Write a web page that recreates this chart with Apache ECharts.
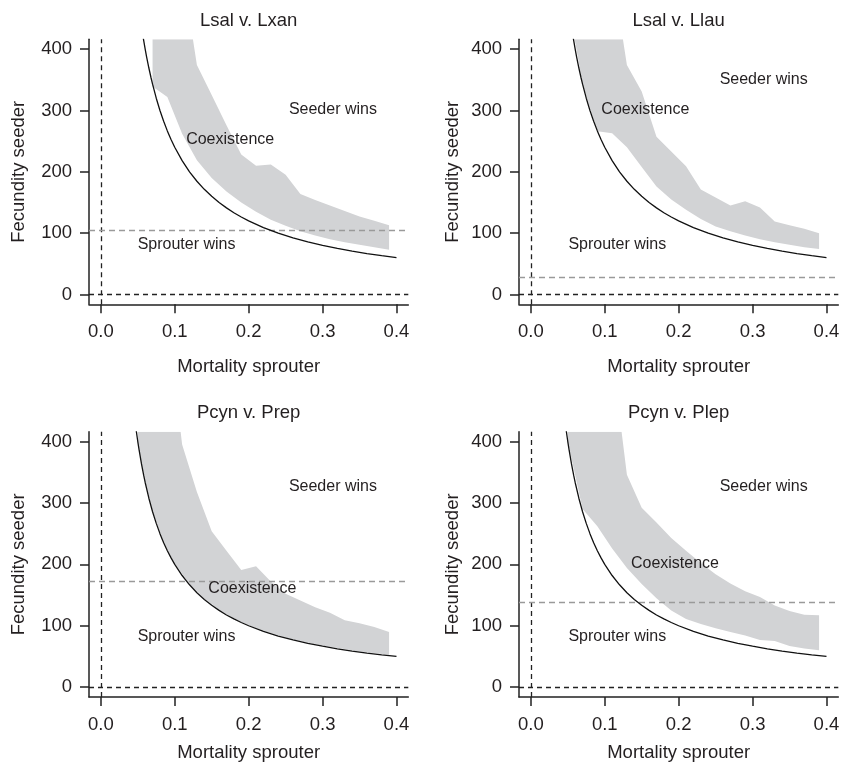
<!DOCTYPE html>
<html>
<head>
<meta charset="utf-8">
<script src="https://cdn.jsdelivr.net/npm/echarts@6/dist/echarts.min.js"></script>
<style>
  html, body { margin: 0; padding: 0; background: #fff; }
  #chart { width: 843px; height: 763px; }
</style>
</head>
<body>
<div id="chart"></div>
<script>
// ---------- data ----------
const titles = ['Lsal v. Lxan', 'Lsal v. Llau', 'Pcyn v. Prep', 'Pcyn v. Plep'];
const xTicks = [0, 0.1, 0.2, 0.3, 0.4];
const yTicks = [0, 100, 200, 300, 400];
const xName = 'Mortality sprouter';
const yName = 'Fecundity seeder';

// black boundary curves (top row / bottom row)
const curveX_A = [0.0575, 0.06, 0.062, 0.065, 0.068, 0.07, 0.075, 0.08, 0.085, 0.09, 0.095, 0.10, 0.11, 0.12, 0.13, 0.14, 0.15, 0.16, 0.17, 0.18, 0.19, 0.20, 0.22, 0.24, 0.26, 0.28, 0.30, 0.32, 0.34, 0.36, 0.38, 0.40];
const curveY_A = [417.4, 400, 387.1, 369.2, 352.9, 342.9, 320, 300, 282.4, 266.7, 252.6, 240, 218.2, 200, 184.6, 171.4, 160, 150, 141.2, 133.3, 126.3, 120, 109.1, 100, 92.3, 85.7, 80, 75, 70.6, 66.7, 63.2, 60];
const curveX_B = [0.048, 0.05, 0.052, 0.055, 0.058, 0.06, 0.065, 0.07, 0.075, 0.08, 0.085, 0.09, 0.095, 0.10, 0.11, 0.12, 0.13, 0.14, 0.15, 0.16, 0.17, 0.18, 0.19, 0.20, 0.22, 0.24, 0.26, 0.28, 0.30, 0.32, 0.34, 0.36, 0.38, 0.40];
const curveY_B = [416.7, 400, 384.6, 363.6, 344.8, 333.3, 307.7, 285.7, 266.7, 250, 235.3, 222.2, 210.5, 200, 181.8, 166.7, 153.8, 142.9, 133.3, 125, 117.6, 111.1, 105.3, 100, 90.9, 83.3, 76.9, 71.4, 66.7, 62.5, 58.8, 55.6, 52.6, 50];

// coexistence bands
const band1X = [0.07, 0.09, 0.11, 0.13, 0.15, 0.17, 0.19, 0.21, 0.23, 0.25, 0.27, 0.29, 0.31, 0.33, 0.35, 0.37, 0.39];
const band1Upper = [900, 700, 530, 374, 325, 276, 228, 210, 212, 195, 164, 154, 145, 136, 127, 120, 113];
const band1Lower = [339, 322, 262, 219, 190, 168, 150, 135, 122, 112, 103, 96, 90, 85, 81, 77, 73];

const band2X = [0.05, 0.07, 0.09, 0.11, 0.13, 0.15, 0.17, 0.19, 0.21, 0.23, 0.25, 0.27, 0.29, 0.31, 0.33, 0.35, 0.37, 0.39];
const band2Upper = [1200, 900, 700, 530, 374, 331, 257, 233, 209, 171, 158, 145, 152, 142, 119, 113, 107, 100];
const band2Lower = [480, 343, 266, 263, 240, 208, 176, 155, 138, 123, 111, 103, 96, 90, 85, 81, 77, 74];

const band3X = [0.05, 0.07, 0.09, 0.11, 0.13, 0.15, 0.17, 0.19, 0.21, 0.23, 0.25, 0.27, 0.29, 0.31, 0.33, 0.35, 0.37, 0.39];
const band3Upper = [1500, 900, 600, 395, 318, 254, 222, 191, 197, 172, 152, 141, 130, 121, 109, 104, 98, 90];
const band3LowerX = [0.05, 0.055, 0.06, 0.07, 0.08, 0.09, 0.10, 0.12, 0.14, 0.16, 0.18, 0.20, 0.22, 0.25, 0.28, 0.31, 0.35, 0.39];
const band3Lower = [400, 364, 334, 287, 251, 223, 201, 168, 144, 126, 112, 101, 92, 81, 72, 66, 58, 53];

const band4X = [0.05, 0.07, 0.09, 0.11, 0.13, 0.15, 0.17, 0.19, 0.21, 0.23, 0.25, 0.27, 0.29, 0.31, 0.33, 0.35, 0.37, 0.39];
const band4Upper = [1500, 900, 650, 540, 346, 292, 268, 243, 222, 202, 184, 169, 156, 147, 133, 124, 118, 117];
const band4Lower = [400, 290, 262, 226, 194, 168, 145, 125, 111, 103, 96, 90, 84, 77, 75, 67, 63, 60];

// grey dashed thresholds
const thresholds = [104, 28, 173, 138];

// region labels
const regionNames = ['Seeder wins', 'Coexistence', 'Sprouter wins'];
const labelX = [[0.314, 0.175, 0.116], [0.315, 0.155, 0.117], [0.314, 0.205, 0.116], [0.315, 0.195, 0.117]];
const labelY = [[301, 252, 82], [351, 301, 82], [327, 160, 83], [327, 201, 83]];

// ---------- chart ----------
const FONT = 'Liberation Sans, Arial, Helvetica, sans-serif';
const TXT = '#231f20';
const AX = '#222';

const panels = [
  { curveX: curveX_A, curveY: curveY_A, ux: band1X, uy: band1Upper, lx: band1X, ly: band1Lower },
  { curveX: curveX_A, curveY: curveY_A, ux: band2X, uy: band2Upper, lx: band2X, ly: band2Lower },
  { curveX: curveX_B, curveY: curveY_B, ux: band3X, uy: band3Upper, lx: band3LowerX, ly: band3Lower },
  { curveX: curveX_B, curveY: curveY_B, ux: band4X, uy: band4Upper, lx: band4X, ly: band4Lower }
];

const gridPos = [
  { left: 89, top: 39.3, width: 319.3, height: 265 },
  { left: 519, top: 39.3, width: 319.3, height: 265 },
  { left: 89, top: 431.7, width: 319.3, height: 266 },
  { left: 519, top: 431.7, width: 319.3, height: 266 }
];
const xNameGap = [53, 53, 46, 46];
const yNameGap = [61, 57, 61, 57];

const grid = [], xAxis = [], yAxis = [], series = [], graphic = [];

panels.forEach(function (p, i) {
  grid.push(gridPos[i]);
  xAxis.push({
    type: 'value', gridIndex: i, min: -0.016, max: 0.416,
    name: xName, nameLocation: 'middle', nameGap: xNameGap[i],
    nameTextStyle: { fontFamily: FONT, fontSize: 18.5, color: TXT },
    axisLine: { show: true, onZero: false, lineStyle: { color: AX, width: 1.5 } },
    axisTick: { show: true, length: 9, customValues: xTicks, lineStyle: { color: AX, width: 1.5 } },
    axisLabel: { customValues: xTicks, margin: 18, fontFamily: FONT, fontSize: 18.5, color: TXT,
      formatter: function (v) { return v.toFixed(1); } },
    splitLine: { show: false }
  });
  yAxis.push({
    type: 'value', gridIndex: i, min: -16, max: 416,
    name: yName, nameLocation: 'middle', nameGap: yNameGap[i],
    nameTextStyle: { fontFamily: FONT, fontSize: 18.5, color: TXT },
    axisLine: { show: true, onZero: false, lineStyle: { color: AX, width: 1.5 } },
    axisTick: { show: true, length: 9, customValues: yTicks, lineStyle: { color: AX, width: 1.5 } },
    axisLabel: { customValues: yTicks, margin: 17, fontFamily: FONT, fontSize: 18.5, color: TXT },
    splitLine: { show: false }
  });

  // band
  series.push({
    type: 'custom', xAxisIndex: i, yAxisIndex: i, clip: true, silent: true, z: 1,
    data: [[0.2, 200]],
    renderItem: function (params, api) {
      const pts = [];
      for (let k = 0; k < p.ux.length; k++) pts.push(api.coord([p.ux[k], p.uy[k]]));
      for (let k = p.lx.length - 1; k >= 0; k--) pts.push(api.coord([p.lx[k], p.ly[k]]));
      const cs = params.coordSys;
      return {
        type: 'polygon', shape: { points: pts }, style: { fill: '#d2d3d5' },
        clipPath: { type: 'rect', shape: { x: cs.x, y: cs.y, width: cs.width, height: cs.height } }
      };
    }
  });

  // curve + dashed reference lines
  series.push({
    type: 'line', xAxisIndex: i, yAxisIndex: i, clip: true, silent: true, z: 5,
    data: p.curveX.map(function (x, k) { return [x, p.curveY[k]]; }),
    showSymbol: false, symbol: 'none', smooth: false,
    lineStyle: { color: '#111', width: 1.3 },
    markLine: {
      silent: true, symbol: ['none', 'none'], label: { show: false }, animation: false,
      data: [
        { xAxis: 0, lineStyle: { color: '#222', type: [5, 4], width: 1.3 } },
        { yAxis: 0, lineStyle: { color: '#222', type: [5, 4], width: 1.3 } },
        { yAxis: thresholds[i], lineStyle: { color: '#9a9a9a', type: [6, 4], width: 1.3 } }
      ]
    }
  });

  // region labels
  series.push({
    type: 'custom', xAxisIndex: i, yAxisIndex: i, silent: true, z: 6,
    data: regionNames.map(function (n, k) { return [labelX[i][k], labelY[i][k], k]; }),
    renderItem: function (params, api) {
      const c = api.coord([api.value(0), api.value(1)]);
      return {
        type: 'text', x: c[0], y: c[1],
        style: { text: regionNames[api.value(2)], fontFamily: FONT, fontSize: 16, fill: TXT, align: 'center', verticalAlign: 'middle' }
      };
    }
  });

  // panel title
  graphic.push({
    type: 'text', x: gridPos[i].left + gridPos[i].width / 2, y: gridPos[i].top - 18.6,
    style: { text: titles[i], fontFamily: FONT, fontSize: 18.5, fill: TXT, align: 'center', verticalAlign: 'middle' }
  });
});

const chart = echarts.init(document.getElementById('chart'), null, { renderer: 'canvas' });
chart.setOption({ animation: false, backgroundColor: '#fff', grid: grid, xAxis: xAxis, yAxis: yAxis, series: series, graphic: graphic });
</script>
</body>
</html>
